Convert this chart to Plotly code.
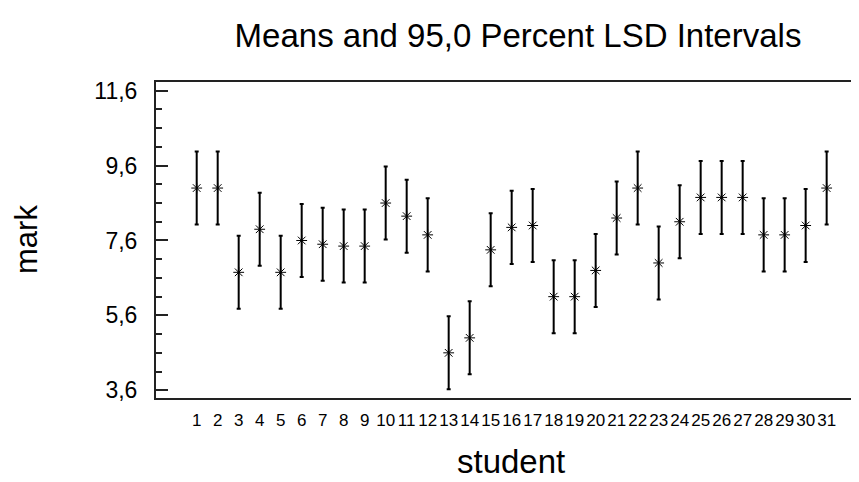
import plotly.graph_objects as go

students = list(range(1, 32))
means = [9.0, 9.0, 6.75, 7.9, 6.75, 7.6, 7.5, 7.45, 7.45, 8.6, 8.25, 7.75, 4.6, 5.0, 7.35,
         7.95, 8.0, 6.1, 6.1, 6.8, 8.2, 9.0, 7.0, 8.1, 8.75, 8.75, 8.75, 7.75, 7.75, 8.0, 9.0]
lsd_half = [0.975] * 31
y_ticks = [3.6, 5.6, 7.6, 9.6, 11.6]

# page body has an 8px margin; the figure is sized to fill the rest of the window
OFF = 8
W, H = 859 - OFF, 482 - OFF
L, T, B, R = 156 - OFF, 82 - OFF, H - (398 - OFF), 0

fig = go.Figure()
fig.add_trace(go.Scatter(
    x=students, y=means, mode="markers",
    marker=dict(symbol="asterisk-open", size=9, color="black", line=dict(color="black", width=1)),
    error_y=dict(type="data", array=lsd_half, visible=True, color="black", thickness=2, width=2),
    showlegend=False, hoverinfo="x+y"))
# invisible trace for the right-side mirrored ticks
fig.add_trace(go.Scatter(x=[students[0]], y=[means[0]], yaxis="y2", mode="markers",
                         marker=dict(opacity=0), showlegend=False, hoverinfo="skip"))

font = "Liberation Sans, Arial, sans-serif"
pw = W - L - R
ph = H - T - B
fig.update_layout(
    width=W, height=H,
    margin=dict(l=L, r=R, t=T, b=B, pad=0),
    paper_bgcolor="white", plot_bgcolor="white",
    separators=",.",
    font=dict(family=font, color="black"),
    title=dict(text="Means and 95,0 Percent LSD Intervals", x=(518 - OFF) / W, xref="container", xanchor="center",
               y=1 - (35 - OFF) / H, yref="container", yanchor="middle", font=dict(size=33, family=font)),
    xaxis=dict(range=[-0.938, 32.54], tickvals=students, ticktext=[str(s) for s in students],
               showgrid=False, zeroline=False, showline=True, linecolor="#222", linewidth=2, mirror=True,
               ticks="", tickangle=0,
               tickfont=dict(size=17, family="Liberation Sans Narrow, Arial Narrow, " + font),
               ticklabelstandoff=6),
    yaxis=dict(range=[3.394, 11.832], tickvals=y_ticks, tickformat=".1f",
               showgrid=False, zeroline=False, showline=True, linecolor="#222", linewidth=2,
               ticks="inside", ticklen=12, tickwidth=2, tickcolor="#222",
               minor=dict(ticks="inside", ticklen=6, tickwidth=2, tickcolor="#222", dtick=0.5, tick0=3.6, showgrid=False),
               tickfont=dict(size=23), ticklabelstandoff=12),
    yaxis2=dict(overlaying="y", side="right", range=[3.394, 11.832], tickvals=y_ticks,
                showgrid=False, zeroline=False, showline=False, showticklabels=False,
                ticks="inside", ticklen=4, tickwidth=2, tickcolor="#222"),
    annotations=[
        dict(text="mark", x=(26 - OFF - L) / pw, y=(H - B - (240 - OFF)) / ph, xref="paper", yref="paper",
             showarrow=False, textangle=-90, font=dict(size=31), xanchor="center", yanchor="middle"),
        dict(text="student", x=(511 - OFF - L) / pw, y=(H - B - (461 - OFF)) / ph, xref="paper", yref="paper",
             showarrow=False, font=dict(size=33), xanchor="center", yanchor="middle"),
    ],
)

fig.write_html("out.html")
